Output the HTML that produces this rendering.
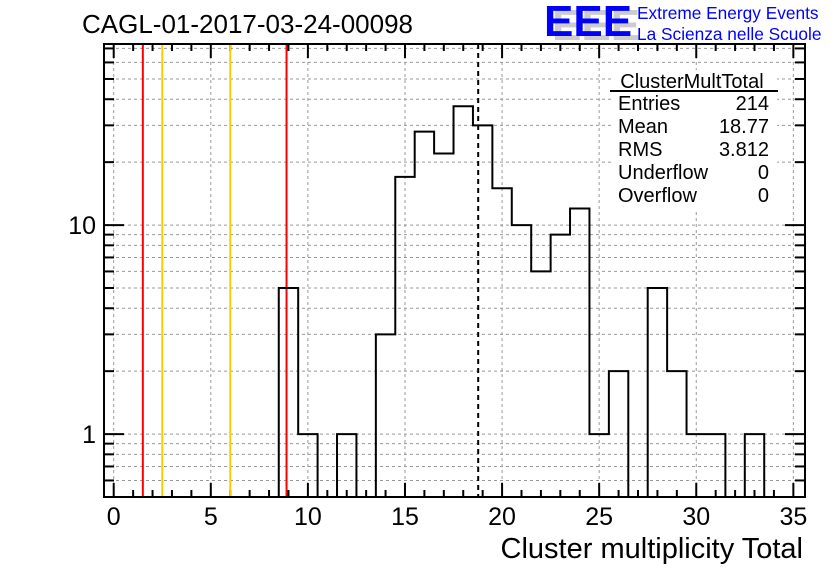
<!DOCTYPE html>
<html><head><meta charset="utf-8"><style>
body{margin:0;background:#fff;}
svg text{font-family:"Liberation Sans",sans-serif;}
</style></head><body>
<svg id="c" width="836" height="572" xmlns="http://www.w3.org/2000/svg"></svg>
<script>
const binCenters=[9,10,12,14,15,16,17,18,19,20,21,22,23,24,25,26,28,29,30,31,33];
const binCounts=[5,1,1,3,17,28,22,37,30,15,10,6,9,12,1,2,5,2,1,1,1];
const xTicks=[0,5,10,15,20,25,30,35];
const yTicks=[1,10];
const redLines=[1.5,8.9];
const orangeLines=[2.5,6];
const meanValue=18.77;
const statLabels=["Entries","Mean","RMS","Underflow","Overflow"];
const statValues=["214","18.77","3.812","0","0"];

const L=104,R=805,T=44,B=497;
const xmin=-0.5,xmax=35.6,ymin=0.5,ymax=73.5;
const X=v=>L+(v-xmin)/(xmax-xmin)*(R-L);
const Y=v=>B-(Math.log10(v)-Math.log10(ymin))/(Math.log10(ymax)-Math.log10(ymin))*(B-T);
const svg=document.getElementById('c');
const NS='http://www.w3.org/2000/svg';
function mk(t,a,p){const e=document.createElementNS(NS,t);for(const k in a)e.setAttribute(k,a[k]);(p||svg).appendChild(e);return e;}

const grid=mk('g',{});


xTicks.forEach(v=>mk('line',{x1:X(v),x2:X(v),y1:T,y2:B,stroke:'#999','stroke-dasharray':'3,3','stroke-width':1},grid));
for(let d=0.1;d<100;d*=10){for(let m=1;m<10;m++){const v=Math.round(d*m*1000)/1000;if(v<ymin||v>ymax)continue;
mk('line',{x1:L,x2:R,y1:Y(v),y2:Y(v),stroke:'#999','stroke-dasharray':'3,3','stroke-width':1},grid);
const len=(m===1)?20:10;
mk('line',{x1:L,x2:L+len,y1:Y(v),y2:Y(v),stroke:'#000','stroke-width':2},grid);
mk('line',{x1:R,x2:R-len,y1:Y(v),y2:Y(v),stroke:'#000','stroke-width':2},grid);}}
for(let v=0;v<=35;v++){const len=v%5===0?14:7;
mk('line',{x1:X(v),x2:X(v),y1:B,y2:B-len,stroke:'#000','stroke-width':2});
mk('line',{x1:X(v),x2:X(v),y1:T,y2:T+len,stroke:'#000','stroke-width':2});}
xTicks.forEach(v=>{const t=mk('text',{x:X(v),y:B+28,'text-anchor':'middle','font-size':25});t.textContent=v;
});
yTicks.forEach(v=>{const t=mk('text',{x:L-8,y:Y(v)+9,'text-anchor':'end','font-size':25});t.textContent=v;
});

redLines.forEach(v=>{const l=mk('line',{x1:X(v),x2:X(v),y1:T,y2:B,stroke:'#f00','stroke-width':2});
});
orangeLines.forEach(v=>{const l=mk('line',{x1:X(v),x2:X(v),y1:T,y2:B,stroke:'#fc0','stroke-width':2});
});
const ml=mk('line',{x1:X(meanValue),x2:X(meanValue),y1:T,y2:B,stroke:'#000','stroke-width':2,'stroke-dasharray':'5,4'});


let d='';let prev=null;
for(let i=0;i<binCenters.length;i++){const c=binCenters[i],h=binCounts[i];
const x0=X(c-0.5),x1=X(c+0.5),y=Y(h);
if(prev===null||prev!==c-1){d+=`M${x0},${B}`;}
d+=`L${x0},${y}L${x1},${y}`;
if(i===binCenters.length-1||binCenters[i+1]!==c+1){d+=`L${x1},${B}`;}
prev=c;}
const hp=mk('path',{d:d,fill:'none',stroke:'#000','stroke-width':2});


const fr=mk('rect',{x:L,y:T,width:R-L,height:B-T,fill:'none',stroke:'#000','stroke-width':2});


const sb=mk('g',{});

mk('rect',{x:612,y:70,width:165,height:140,fill:'#fff'},sb);
let tt=mk('text',{x:692,y:88,'text-anchor':'middle','font-size':20},sb);tt.textContent='ClusterMultTotal';
mk('line',{x1:610,x2:778,y1:91,y2:91,stroke:'#000','stroke-width':2},sb);
statLabels.forEach((s,i)=>{const y=110+i*23;
let a=mk('text',{x:618,y:y,'font-size':20},sb);a.textContent=s;
let b=mk('text',{x:769,y:y,'text-anchor':'end','font-size':20},sb);b.textContent=statValues[i];});

const ti=mk('text',{x:82,y:33,'font-size':26});ti.textContent='CAGL-01-2017-03-24-00098';

const xt=mk('text',{x:803,y:558,'text-anchor':'end','font-size':29});xt.textContent='Cluster multiplicity Total';


const lg=mk('g',{});

let s1=mk('text',{x:552,y:40,'font-size':44,'font-weight':'bold',fill:'#ccc'},lg);s1.textContent='EEE';
let s2=mk('text',{x:544,y:36,'font-size':44,'font-weight':'bold',fill:'#00f'},lg);s2.textContent='EEE';
let l1=mk('text',{x:637,y:19,'font-size':17.3,fill:'#00f'},lg);l1.textContent='Extreme Energy Events';
let l2=mk('text',{x:637,y:40,'font-size':17.3,fill:'#00f'},lg);l2.textContent='La Scienza nelle Scuole';
</script>
</body></html>
